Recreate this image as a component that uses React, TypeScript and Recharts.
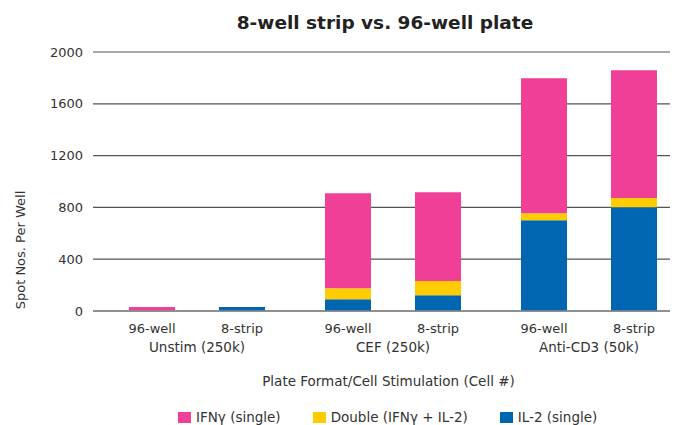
import React from "react";
import { BarChart, Bar, XAxis, YAxis, CartesianGrid } from "recharts";

const groups = ["Unstim (250k)", "CEF (250k)", "Anti-CD3 (50k)"];
const formats = ["96-well", "8-strip"];
const ifn96 = [30, 734, 1043];
const dbl96 = [0, 85, 54];
const il296 = [0, 90, 700];
const ifn8 = [0, 685, 986];
const dbl8 = [0, 111, 72];
const il28 = [30, 121, 801];
const yTicks = [0, 400, 800, 1200, 1600, 2000];
const seriesNames = ["IFNγ (single)", "Double (IFNγ + IL-2)", "IL-2 (single)"];
const colors = ["#EF3F96", "#FFCC00", "#0066B2"];
const title = "8-well strip vs. 96-well plate";
const xTitle = "Plate Format/Cell Stimulation (Cell #)";
const yTitle = "Spot Nos. Per Well";

const data = groups.map((g, i) => ({
  group: g,
  il296: il296[i],
  dbl96: dbl96[i],
  ifn96: ifn96[i],
  il28: il28[i],
  dbl8: dbl8[i],
  ifn8: ifn8[i],
}));

const BAR = 46;
const GAP = 44;
const FONT = "'DejaVu Sans', Verdana, sans-serif";
const TEXT = "#333";

function GroupTick(props: any) {
  const { x, y, payload } = props;
  const off = (BAR + GAP) / 2;
  return (
    <g>
      <text x={x - off} y={y + 22} textAnchor="middle" fontSize={13} fill={TEXT} fontFamily={FONT}>
        {formats[0]}
      </text>
      <text x={x + off} y={y + 22} textAnchor="middle" fontSize={13} fill={TEXT} fontFamily={FONT}>
        {formats[1]}
      </text>
      <text x={x} y={y + 41} textAnchor="middle" fontSize={13.5} fill={TEXT} fontFamily={FONT}>
        {payload.value}
      </text>
    </g>
  );
}

export default function App() {
  return (
    <div
      style={{
        position: "relative",
        width: 670,
        height: 417,
        overflow: "hidden",
        fontFamily: FONT,
        background: "#fff",
      }}
    >
      <div
        style={{
          position: "absolute",
          left: 377,
          top: 6.3,
          transform: "translateX(-50%)",
          fontSize: 18.5,
          lineHeight: 1,
          fontWeight: "bold",
          color: "#222",
          whiteSpace: "nowrap",
        }}
      >
        {title}
      </div>
      <BarChart
        width={690}
        height={417}
        data={data}
        margin={{ top: 44, right: 11, bottom: 54, left: 0 }}
        barSize={BAR}
        barGap={GAP}
      >
        <CartesianGrid vertical={false} stroke="#555" strokeWidth={1.2} />
        <XAxis
          dataKey="group"
          height={60}
          padding={{ left: 6, right: 0 }}
          axisLine={{ stroke: "#888", strokeWidth: 1.5 }}
          tickLine={false}
          tickSize={0}
          tickMargin={0}
          interval={0}
          tick={<GroupTick />}
        />
        <YAxis
          width={85}
          domain={[0, 2000]}
          ticks={yTicks}
          axisLine={false}
          tickLine={false}
          tickSize={0}
          tickMargin={10}
          tick={{ fontSize: 13, fill: TEXT, fontFamily: FONT }}
        />
        <Bar dataKey="il296" stackId="s96" fill={colors[2]} isAnimationActive={false} />
        <Bar dataKey="dbl96" stackId="s96" fill={colors[1]} isAnimationActive={false} />
        <Bar dataKey="ifn96" stackId="s96" fill={colors[0]} isAnimationActive={false} />
        <Bar dataKey="il28" stackId="s8" fill={colors[2]} isAnimationActive={false} />
        <Bar dataKey="dbl8" stackId="s8" fill={colors[1]} isAnimationActive={false} />
        <Bar dataKey="ifn8" stackId="s8" fill={colors[0]} isAnimationActive={false} />
      </BarChart>
      <div
        style={{
          position: "absolute",
          left: 12,
          top: 242,
          transform: "translate(-50%, -50%) rotate(-90deg)",
          fontSize: 13,
          lineHeight: 1,
          color: TEXT,
          whiteSpace: "nowrap",
        }}
      >
        {yTitle}
      </div>
      <div
        style={{
          position: "absolute",
          left: 380.5,
          top: 366.6,
          transform: "translateX(-50%)",
          fontSize: 13.5,
          lineHeight: 1,
          color: TEXT,
          whiteSpace: "nowrap",
        }}
      >
        {xTitle}
      </div>
      <div
        style={{
          position: "absolute",
          left: 170,
          top: 402.6,
          display: "flex",
          gap: 32,
          fontSize: 13.5,
          lineHeight: 1,
          color: TEXT,
          whiteSpace: "nowrap",
        }}
      >
        {seriesNames.map((n, i) => (
          <div key={n} style={{ display: "flex", alignItems: "flex-start" }}>
            <span
              style={{
                display: "inline-block",
                width: 13,
                height: 11,
                marginTop: 1,
                marginRight: 5,
                background: colors[i],
              }}
            />
            <span>{n}</span>
          </div>
        ))}
      </div>
    </div>
  );
}
